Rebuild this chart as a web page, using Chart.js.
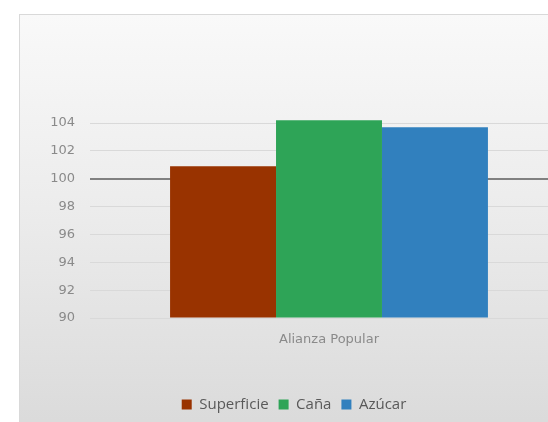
<!DOCTYPE html>
<html lang="es">
<head>
<meta charset="UTF-8">
<title>Alianza Popular</title>
<script src="https://cdn.jsdelivr.net/npm/chart.js"></script>
<style>
  html, body { margin: 0; padding: 0; background: #fff; overflow: hidden; }
  .marco {
    position: absolute; left: 19px; top: 14px;
    width: 552px; height: 430px;
    border: 1px solid #d9d9d9;
    background: linear-gradient(to bottom, #f9f9f9 0%, #ececec 45%, #d9d9d9 100%);
  }
  canvas { display: block; }
</style>
</head>
<body>
<div class="marco">
  <canvas id="grafico" width="552" height="410"></canvas>
</div>
<script>
  // datos
  const categorias = ['Alianza Popular'];
  const superficie = [100.9];
  const cana = [104.2];
  const azucar = [103.7];
  const ticksY = [90, 92, 94, 96, 98, 100, 102, 104];

  const ctx = document.getElementById('grafico').getContext('2d');

  new Chart(ctx, {
    type: 'bar',
    data: {
      labels: categorias,
      datasets: [
        { label: 'Superficie', data: superficie, backgroundColor: '#993300' },
        { label: 'Caña', data: cana, backgroundColor: '#2ea457' },
        { label: 'Azúcar', data: azucar, backgroundColor: '#3180be' }
      ]
    },
    options: {
      responsive: false,
      animation: false,
      categoryPercentage: 0.665,
      barPercentage: 1,
      layout: { padding: { top: 108, right: 4, left: 0, bottom: 3 } },
      datasets: { bar: { base: 90, clip: { left: 0, right: 0, bottom: 0, top: false } } },
      scales: {
        y: {
          min: 90,
          max: 104,
          afterFit: (scale) => { scale.width = 70; },
          afterBuildTicks: (scale) => { scale.ticks = ticksY.map(v => ({ value: v })); },
          border: { display: false },
          grid: {
            drawTicks: false,
            color: (c) => c.tick && c.tick.value === 100 ? '#808080' : '#d9d9d9',
            lineWidth: (c) => c.tick && c.tick.value === 100 ? 2 : 1
          },
          ticks: {
            padding: 15,
            color: '#8a8a8a',
            font: { family: 'DejaVu Sans', size: 13 }
          }
        },
        x: {
          afterFit: (scale) => { scale.height = 69; },
          border: { display: false },
          grid: { display: false, drawTicks: false },
          ticks: {
            padding: 14,
            color: '#8a8a8a',
            font: { family: 'DejaVu Sans', size: 13 }
          }
        }
      },
      plugins: {
        tooltip: { enabled: false },
        legend: {
          position: 'bottom',
          labels: {
            boxWidth: 10,
            boxHeight: 10,
            padding: 10,
            color: '#595959',
            font: { family: 'Open Sans', size: 15 }
          }
        }
      }
    }
  });
</script>
</body>
</html>
